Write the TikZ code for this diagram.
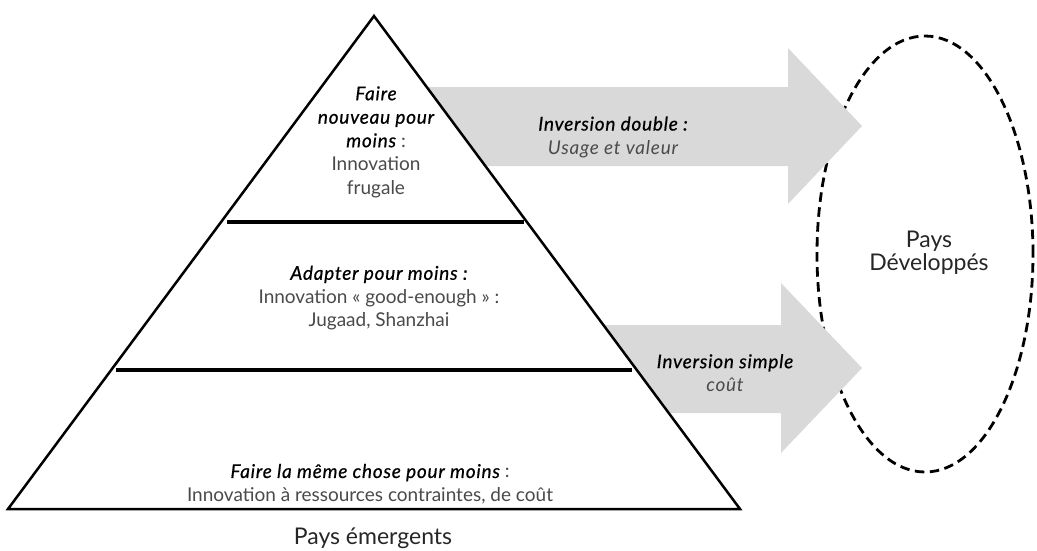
\documentclass[tikz,border=0pt]{standalone}
\usepackage{fontspec}
\setmainfont{Lato}
\newfontfamily\kwfont{Lato}[LetterSpace=4, FakeBold=0.6]
\usetikzlibrary{shapes.geometric}
\definecolor{arrowgray}{HTML}{D9D9D9}
\definecolor{lighttext}{HTML}{4A4A4A}
\tikzset{
  stage/.style={align=center, inner sep=0pt, text=lighttext, font=\fontsize{19}{23.5}\selectfont},
  arrowbody/.style={fill=arrowgray, draw=none},
  bigtext/.style={inner sep=0pt, align=center, font=\fontsize{23}{23}\selectfont, text=black!85},
}
\newcommand{\kw}[1]{{\kwfont\itshape\color{black}#1}}
\newcommand{\kwg}[1]{{\itshape\addfontfeature{LetterSpace=4}#1}}
\begin{document}
\begin{tikzpicture}[x=1pt,y=-1pt]
\useasboundingbox (0,0) rectangle (1037,550);
% developed countries ellipse
\node[draw=black, dash pattern=on 9.5pt off 5.5pt, line width=2.8pt, ellipse, minimum width=216pt, minimum height=436pt, inner sep=0pt] (dev) at (925,254) {};
% arrows
\fill[arrowbody] (400,87) -- (788,87) -- (788,48) -- (862,126) -- (788,204) -- (788,166) -- (400,166) -- cycle;
\fill[arrowbody] (560,325) -- (781,325) -- (781,283) -- (862,368) -- (781,453) -- (781,413) -- (560,413) -- cycle;
% pyramid
\coordinate (apex) at (374,16);
\coordinate (bl) at (8,509);
\coordinate (br) at (740,509);
\draw[fill=white, line width=2.5pt, line join=miter] (apex) -- (br) -- (bl) -- cycle;
\draw[line width=3.5pt] (227,222) -- (524,222);
\draw[line width=3.5pt] (116,370) -- (632,370);
% texts
\node[stage] (top) at (376,142) {\kw{Faire}\\\kw{nouveau pour}\\\kw{moins} :\\Innovation\\frugale};
\node[stage] (mid) at (379,298) {\kw{Adapter pour moins :}\\Innovation « good-enough » :\\Jugaad, Shanzhai};
\node[stage] (low) at (370,484) {\kw{Faire la même chose pour moins} :\\Innovation à ressources contraintes, de coût};
\node[bigtext] (emerg) at (373,538) {Pays émergents};
\node[stage] (dbl) at (613,137) {\kw{Inversion double :}\\\kwg{Usage et valeur}};
\node[stage] (smp) at (725,373) {\kw{Inversion simple}\\\kwg{coût}};
\node[bigtext] (devlabel) at (929,253) {Pays\\Développés};
\end{tikzpicture}
\end{document}
